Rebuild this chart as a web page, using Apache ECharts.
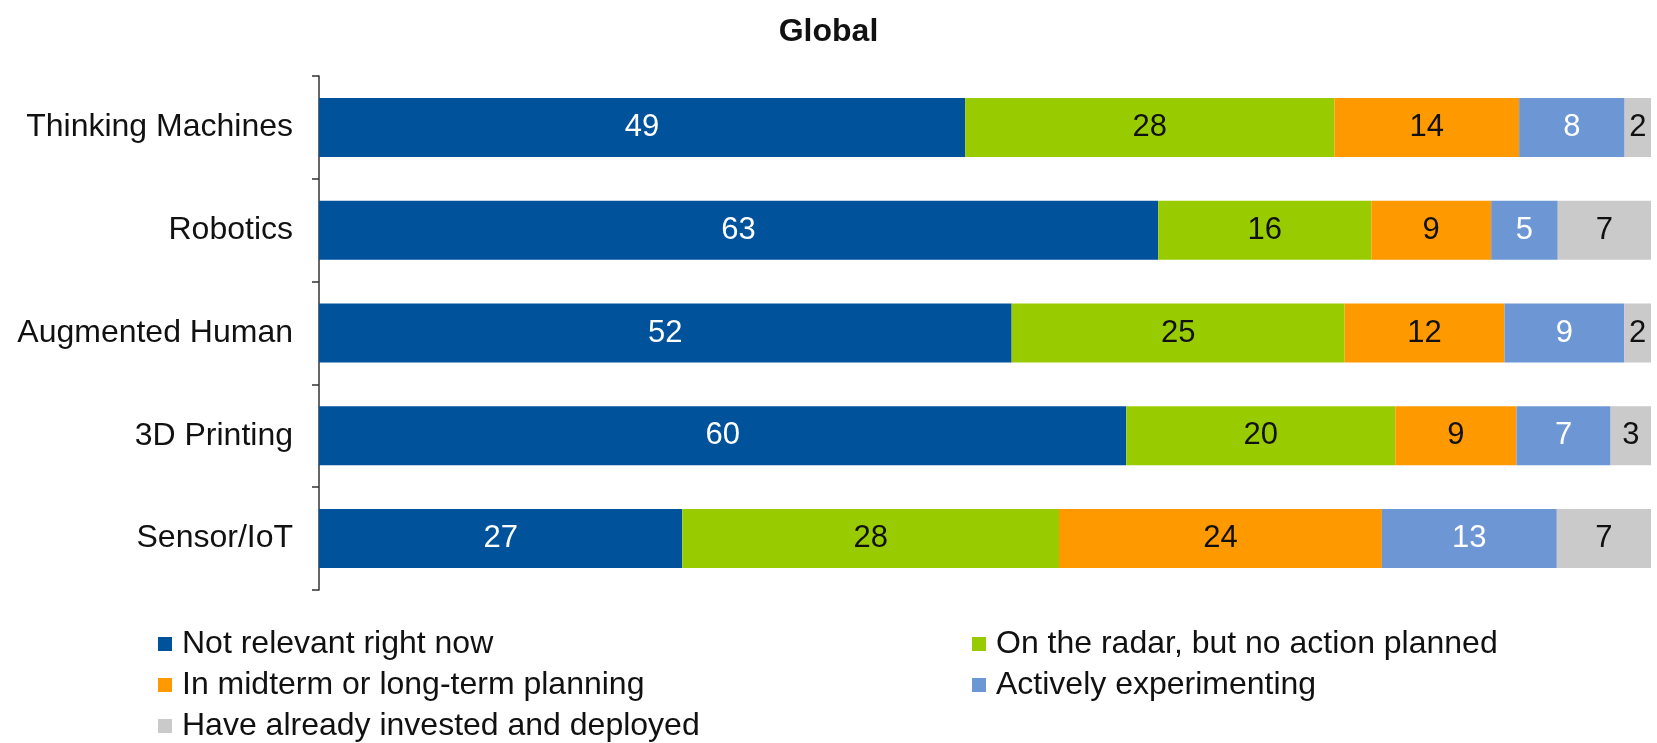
<!DOCTYPE html>
<html>
<head>
<meta charset="utf-8">
<script src="https://cdn.jsdelivr.net/npm/echarts@6/dist/echarts.min.js"></script>
<style>
  html, body { margin: 0; padding: 0; background: #fff; }
  #chart { width: 1657px; height: 743px; }
</style>
</head>
<body>
<div id="chart"></div>
<script>
// categories, top to bottom
const categories = ["Thinking Machines", "Robotics", "Augmented Human", "3D Printing", "Sensor/IoT"];

// answer shares per category (as printed on the bars)
const notRelevant = [49, 63, 52, 60, 27];
const onRadar     = [28, 16, 25, 20, 28];
const planning    = [14, 9, 12, 9, 24];
const experiment  = [8, 5, 9, 7, 13];
const deployed    = [2, 7, 2, 3, 7];

const seriesNames = [
  "Not relevant right now",
  "On the radar, but no action planned",
  "In midterm or long-term planning",
  "Actively experimenting",
  "Have already invested and deployed"
];
const colors = ["#00529b", "#99cc00", "#ff9900", "#6d97d4", "#cacaca"];
const labelColors = ["#ffffff", "#111111", "#111111", "#ffffff", "#111111"];

const rows = [notRelevant, onRadar, planning, experiment, deployed];
// bars are drawn as a 100% stack (printed shares don't always add to 100)
const totals = categories.map((c, i) => rows.reduce((s, r) => s + r[i], 0));

const FONT = "Liberation Sans, Arial, sans-serif";

function legendCol(names, left) {
  return {
    data: names,
    orient: "vertical",
    left: left,
    top: 628,
    height: 115,
    padding: 0,
    itemWidth: 14,
    itemHeight: 14,
    itemGap: 9,
    icon: "rect",
    textStyle: { fontFamily: FONT, fontSize: 32, color: "#111", lineHeight: 32, padding: [0, 0, 0, 5] }
  };
}

const chart = echarts.init(document.getElementById("chart"));
chart.setOption({
  animation: false,
  title: {
    text: "Global",
    left: "center",
    top: 11,
    textStyle: { fontFamily: FONT, fontSize: 32, fontWeight: "bold", color: "#111" }
  },
  grid: { left: 319, right: 6, top: 76, bottom: 153 },
  legend: [
    legendCol([seriesNames[0], seriesNames[2], seriesNames[4]], 158),
    legendCol([seriesNames[1], seriesNames[3]], 972)
  ],
  xAxis: {
    type: "value",
    min: 0,
    max: 100,
    show: false
  },
  yAxis: {
    type: "category",
    data: categories,
    inverse: true,
    axisLine: { show: true, lineStyle: { color: "#333", width: 1.5 } },
    axisTick: { show: true, length: 7, lineStyle: { color: "#333", width: 1.5 } },
    axisLabel: { fontFamily: FONT, fontSize: 32, color: "#111", margin: 26 }
  },
  series: rows.map((r, k) => ({
    name: seriesNames[k],
    type: "bar",
    stack: "total",
    barWidth: 59,
    itemStyle: { color: colors[k] },
    label: {
      show: true,
      position: "inside",
      fontFamily: FONT,
      fontSize: 31,
      color: labelColors[k],
      formatter: p => String(r[p.dataIndex])
    },
    data: r.map((v, i) => v / totals[i] * 100)
  }))
});
</script>
</body>
</html>
